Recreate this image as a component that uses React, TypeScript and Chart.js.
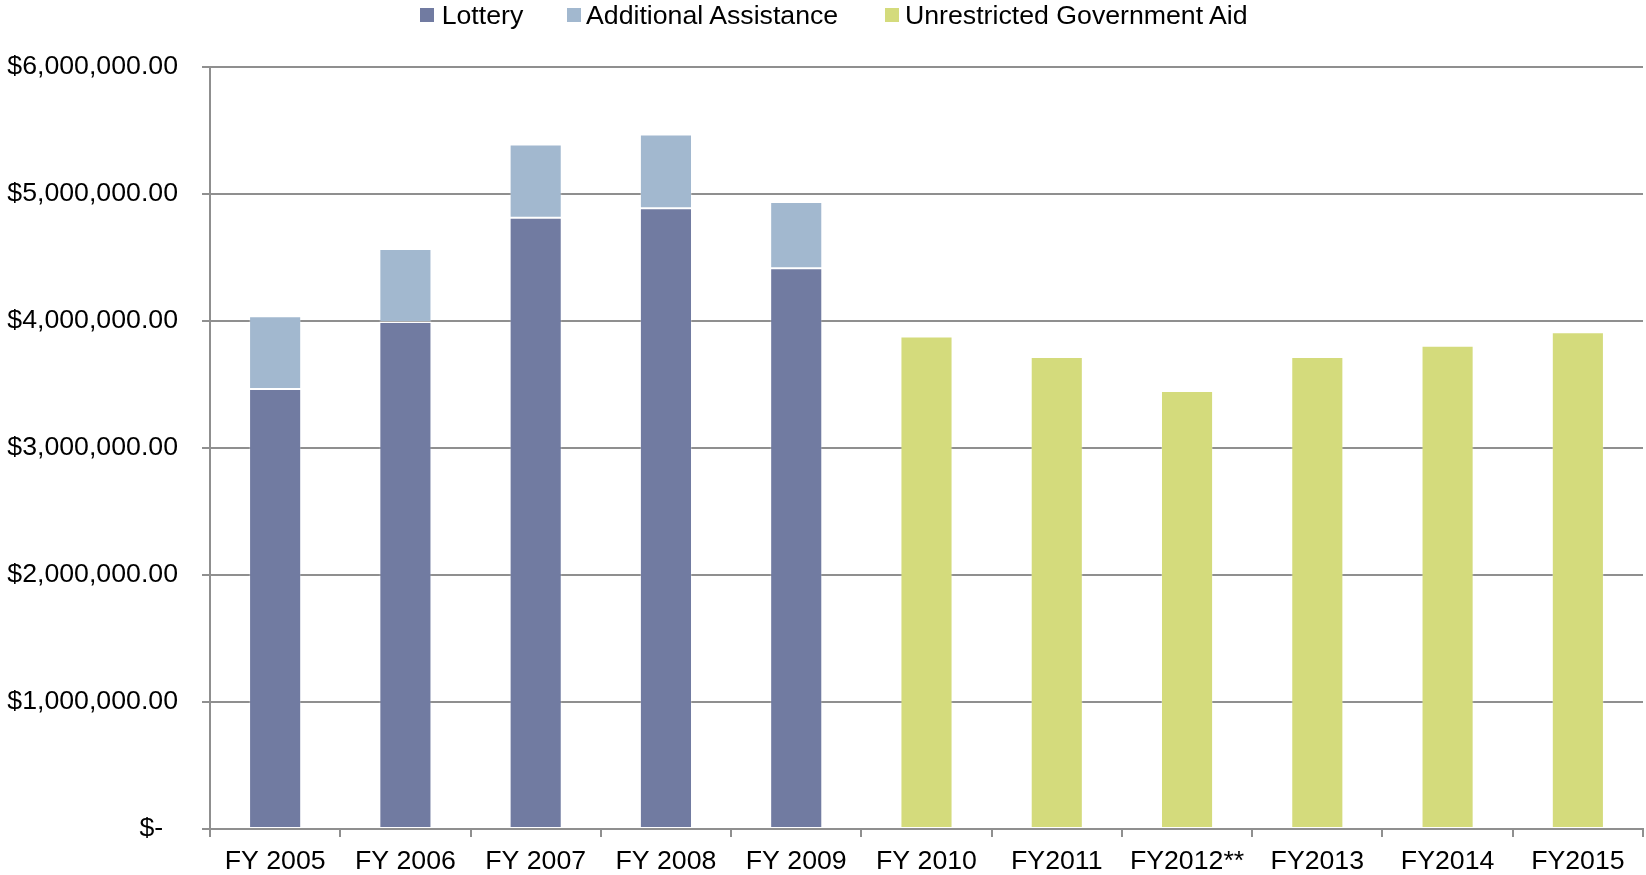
import React, { useEffect, useRef } from "react";
import { Chart, registerables } from "chart.js";

Chart.register(...registerables);

const categories = ["FY 2005", "FY 2006", "FY 2007", "FY 2008", "FY 2009", "FY 2010", "FY2011", "FY2012**", "FY2013", "FY2014", "FY2015"];
const lottery = [3462000, 3990000, 4810000, 4884000, 4412000, null, null, null, null, null, null];
const additionalAssistance = [573000, 574000, 576000, 581000, 521000, null, null, null, null, null, null];
const unrestrictedAid = [null, null, null, null, null, 3875000, 3714000, 3446000, 3714000, 3802000, 3908000];
const yTicks = [0, 1000000, 2000000, 3000000, 4000000, 5000000, 6000000];

const seriesNames = ["Lottery", "Additional Assistance", "Unrestricted Government Aid"];
const seriesColors = ["#717BA1", "#A2B8CF", "#D4DB7C"];

const FONT = "'Liberation Sans', Arial, sans-serif";
const FS = 26.7;

export default function App() {
  const ref = useRef<HTMLCanvasElement | null>(null);

  useEffect(() => {
    if (!ref.current) return;
    const fmt = (v: number) =>
      v === 0 ? "$-  " : "$" + v.toLocaleString("en-US", { minimumFractionDigits: 2, maximumFractionDigits: 2 });
    const chart = new Chart(ref.current, {
      type: "bar",
      data: {
        labels: categories,
        datasets: [lottery, additionalAssistance, unrestrictedAid].map((d, i) => ({
          label: seriesNames[i],
          data: d,
          backgroundColor: seriesColors[i],
          borderColor: "rgba(255,255,255,0.25)",
          borderWidth: 1,
          borderSkipped: false,
          barPercentage: 0.4,
          categoryPercentage: 1,
        })),
      },
      options: {
        responsive: false,
        animation: false,
        devicePixelRatio: 1,
        layout: { padding: { top: 66.5, right: 3, bottom: 0, left: 0 } },
        plugins: { legend: { display: false }, tooltip: { enabled: false } },
        font: { family: FONT, size: FS },
        scales: {
          x: {
            stacked: true,
            grid: {
              display: true,
              offset: true,
              drawOnChartArea: false,
              drawTicks: true,
              tickLength: 8,
              color: "#8f8f8f",
              lineWidth: 2,
            },
            border: { display: true, color: "#8f8f8f", width: 2 },
            ticks: { color: "#000", font: { family: FONT, size: FS }, padding: 9, maxRotation: 0, autoSkip: false },
            afterFit: (s: any) => {
              s.height = 46;
            },
          },
          y: {
            stacked: true,
            min: 0,
            max: 6000000,
            afterBuildTicks: (s: any) => {
              s.ticks = yTicks.map((v) => ({ value: v }));
            },
            grid: { color: "#8f8f8f", lineWidth: 2, drawTicks: true, tickLength: 8 },
            border: { display: true, color: "#8f8f8f", width: 2 },
            ticks: {
              color: "#000",
              font: { family: FONT, size: FS },
              padding: 24,
              callback: (v: any) => fmt(Number(v)),
            },
            afterFit: (s: any) => {
              s.width = 210;
            },
          },
        },
      } as any,
    });
    return () => chart.destroy();
  }, []);

  const legendItems = [
    { box: 420, text: 441.7 },
    { box: 567, text: 586 },
    { box: 885, text: 905 },
  ];

  return (
    <div style={{ position: "fixed", left: 0, top: 0, width: 1646, height: 875, background: "#fff" }}>
      <canvas ref={ref} width={1646} height={875} style={{ display: "block" }} />
      {legendItems.map((it, i) => (
        <React.Fragment key={i}>
          <div
            style={{
              position: "absolute",
              left: it.box,
              top: 8,
              width: 14,
              height: 14,
              background: seriesColors[i],
            }}
          />
          <div
            style={{
              position: "absolute",
              left: it.text,
              top: 2,
              fontFamily: FONT,
              fontSize: FS,
              lineHeight: "27px",
              color: "#000",
              whiteSpace: "nowrap",
            }}
          >
            {seriesNames[i]}
          </div>
        </React.Fragment>
      ))}
    </div>
  );
}
